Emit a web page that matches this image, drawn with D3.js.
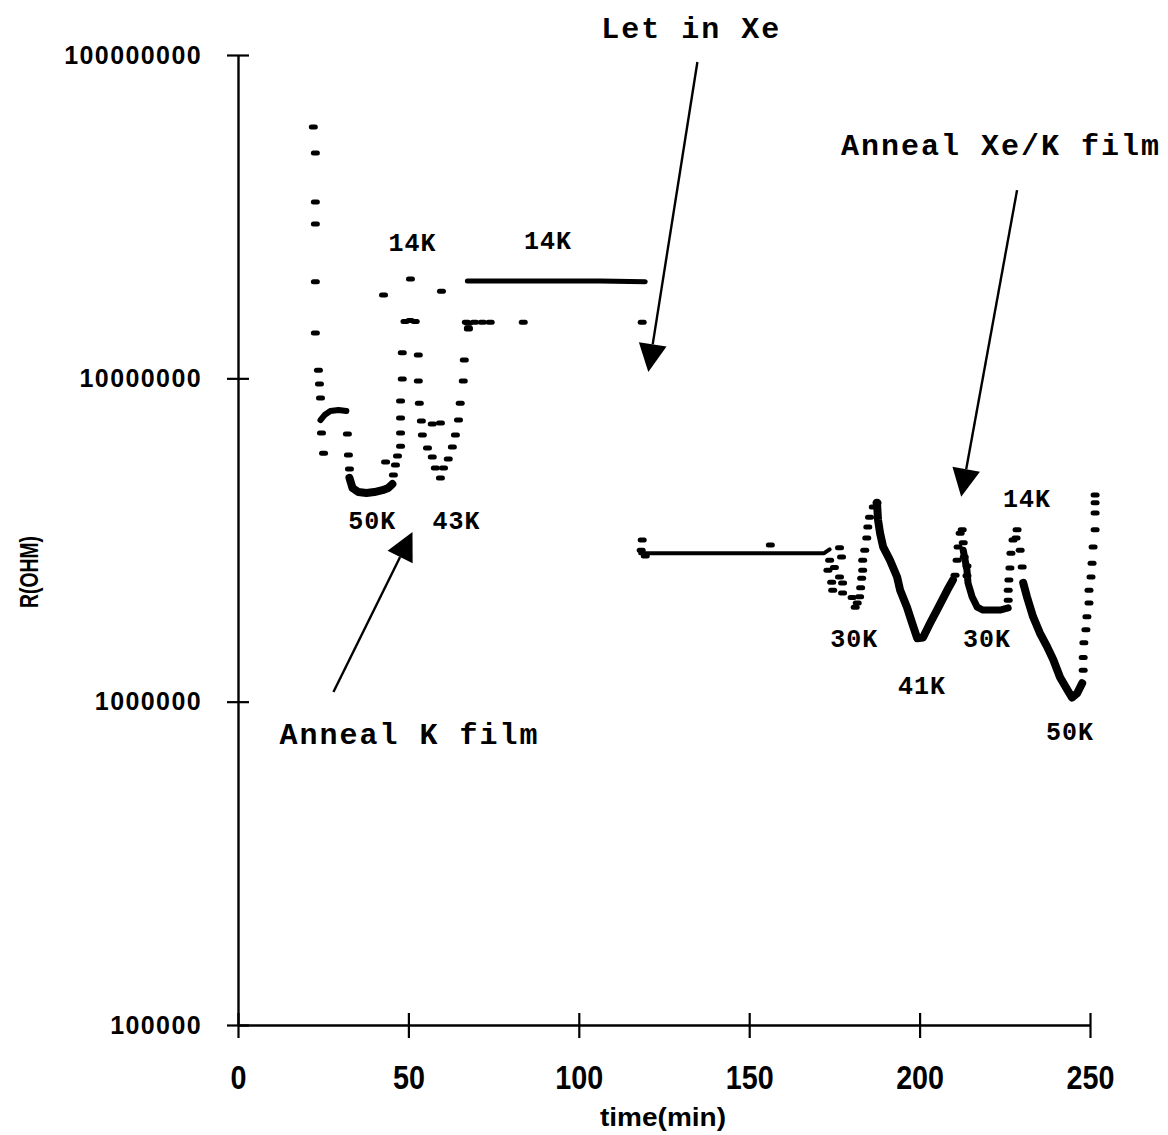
<!DOCTYPE html>
<html>
<head>
<meta charset="utf-8">
<script src="https://cdn.jsdelivr.net/npm/d3@7"></script>
<style>
  body { margin: 0; background: #fff; }
  svg { display: block; }
</style>
</head>
<body>
<svg id="chart" width="1168" height="1135"></svg>
<script>
// ---- Resistance of the K film vs. time: individual readings [time (min), R (ohm)] ----

// K film: first cool-down and anneal cycles (sparse readings)
const kFilmReadings = [
  [22.1, 5.99e7], [22.7, 4.98e7], [22.7, 3.51e7], [22.7, 3.00e7], [22.7, 1.99e7],
  [22.7, 1.38e7], [23.6, 1.06e7], [23.9, 9.60e6], [24.2, 8.69e6], [24.5, 6.77e6],
  [25.1, 5.87e6],
  [32.1, 6.73e6], [32.4, 5.79e6], [32.7, 5.24e6], [43.3, 5.51e6],
  [45.6, 5.02e6], [46.2, 5.39e6], [46.8, 5.75e6], [47.7, 6.17e6], [47.7, 6.77e6],
  [47.7, 7.54e6], [47.7, 8.51e6], [48.2, 9.95e6], [48.2, 1.20e7],
  [49.0, 1.50e7], [50.5, 1.51e7], [52.0, 1.50e7],
  [52.9, 1.18e7], [52.9, 9.81e6], [53.2, 8.38e6], [53.8, 7.38e6], [54.1, 6.68e6],
  [55.6, 6.09e6], [57.0, 5.71e6], [57.9, 5.28e6], [59.4, 4.92e6],
  [57.0, 7.22e6], [59.4, 7.27e6],
  [60.3, 5.28e6], [61.7, 5.63e6], [62.9, 6.13e6], [63.8, 6.68e6], [64.7, 7.43e6],
  [65.2, 8.38e6], [66.1, 9.81e6], [66.4, 1.14e7], [67.6, 1.42e7], [67.6, 1.48e7],
  [42.7, 1.81e7], [50.6, 2.03e7], [59.7, 1.86e7],
  [67.0, 1.49e7], [69.4, 1.49e7], [71.7, 1.49e7], [74.0, 1.49e7], [67.6, 1.43e7],
  [83.7, 1.49e7], [118.6, 1.49e7]
];

// Xe/K film: plateau, anneal cycles (sparse readings)
const xeFilmReadings = [
  [118.6, 3.16e6], [118.3, 2.94e6], [119.5, 2.82e6], [156.2, 3.05e6],
  [176.5, 2.99e6], [177.1, 2.80e6], [173.6, 2.74e6], [173.1, 2.55e6], [174.2, 2.34e6],
  [174.5, 2.21e6], [176.5, 2.43e6], [177.4, 2.33e6], [177.4, 2.17e6], [175.0, 2.60e6],
  [181.1, 1.96e6], [181.7, 2.02e6], [180.2, 2.10e6], [182.4, 2.11e6], [182.7, 2.25e6],
  [183.0, 2.41e6], [183.3, 2.55e6], [183.3, 2.74e6], [183.9, 2.94e6], [184.5, 3.21e6],
  [184.8, 3.47e6], [185.3, 3.72e6], [186.4, 4.00e6], [187.5, 4.12e6],
  [210.4, 2.46e6], [211.0, 2.74e6], [211.3, 3.01e6], [211.9, 3.32e6], [212.5, 3.40e6],
  [212.8, 3.10e6], [213.1, 2.80e6], [213.9, 2.63e6], [213.9, 2.45e6],
  [226.0, 2.06e6], [226.0, 2.21e6], [226.2, 2.38e6], [226.5, 2.59e6], [226.8, 2.88e6],
  [227.4, 3.16e6], [228.6, 3.40e6], [228.3, 3.21e6], [229.5, 2.94e6], [230.1, 2.61e6],
  [248.0, 1.25e6], [248.0, 1.37e6], [248.2, 1.52e6], [248.8, 1.67e6], [249.1, 1.83e6],
  [249.7, 2.02e6], [249.7, 2.21e6], [250.3, 2.43e6], [250.6, 2.68e6], [250.9, 3.01e6],
  [251.5, 3.40e6], [251.5, 3.83e6], [251.5, 4.12e6], [251.5, 4.36e6]
];

// Densely sampled stretches, drawn as continuous traces
const kPlateau8M = [[24.2, 7.43e6], [25.4, 7.70e6], [27.1, 7.92e6], [29.5, 7.98e6], [31.8, 7.92e6]];
const kDip50K = [[32.7, 4.92e6], [33.6, 4.58e6], [35.3, 4.45e6], [37.7, 4.42e6], [40.0, 4.45e6],
                 [42.4, 4.51e6], [44.1, 4.58e6], [45.3, 4.71e6]];
const kHold14K = [[67.3, 2.00e7], [77.0, 2.00e7], [91.6, 2.00e7], [106.3, 2.00e7], [119.5, 1.99e7]];
const xePlateau = [[118.0, 2.88e6], [150.0, 2.88e6], [172.0, 2.88e6], [173.6, 2.96e6]];
const xeDip41K = [[187.5, 4.12e6], [187.8, 3.65e6], [188.4, 3.32e6], [189.3, 3.01e6], [191.3, 2.74e6],
                  [193.4, 2.43e6], [194.3, 2.21e6], [196.3, 1.96e6], [197.8, 1.75e6], [199.3, 1.57e6],
                  [201.0, 1.58e6], [203.1, 1.75e6], [205.1, 1.92e6], [208.1, 2.21e6], [209.8, 2.38e6]];
const xeDip30K = [[212.8, 2.94e6], [213.9, 2.55e6], [214.2, 2.33e6], [215.4, 2.11e6], [216.9, 1.96e6],
                  [218.6, 1.92e6], [223.6, 1.92e6], [226.0, 1.95e6]];
const xeDip50K = [[230.4, 2.33e6], [231.5, 2.11e6], [233.3, 1.83e6], [235.3, 1.63e6], [237.4, 1.48e6],
                  [239.2, 1.35e6], [241.2, 1.19e6], [243.3, 1.09e6], [244.7, 1.03e6], [246.2, 1.06e6],
                  [247.7, 1.14e6]];

// Axis ticks
const xTicks = [0, 50, 100, 150, 200, 250];
const yTicks = [1e5, 1e6, 1e7, 1e8];

// Temperature labels [text, time, R at baseline]
const tempLabels = [
  ["14K", 51.2, 2.48e7], ["14K", 91.0, 2.51e7], ["50K", 39.4, 3.42e6], ["43K", 64.1, 3.42e6],
  ["30K", 180.8, 1.48e6], ["41K", 200.7, 1.056e6], ["30K", 219.8, 1.48e6],
  ["14K", 231.5, 4.00e6], ["50K", 244.1, 7.61e5]
];

// Event notes [text, time, R at baseline] and their arrows [from, to]
const eventNotes = [
  ["Let in Xe", 133.0, 1.13e8],
  ["Anneal Xe/K film", 223.9, 4.91e7],
  ["Anneal K film", 50.3, 7.39e5]
];
const eventArrows = [
  [[134.8, 9.51e7], [120.4, 1.046e7]],
  [[228.6, 3.82e7], [212.2, 4.30e6]],
  [[28.0, 1.071e6], [51.2, 3.35e6]]
];

// ---- Layout ----
const W = 1168, H = 1135;
const margin = { top: 55, right: 78, bottom: 110, left: 238 };
const svg = d3.select("#chart");

const x = d3.scaleLinear().domain([0, 250]).range([margin.left, W - margin.right]);
const y = d3.scaleLog().domain([1e5, 1e8]).range([H - margin.bottom, margin.top]);

const sansBold = "'Liberation Sans', Arial, sans-serif";
const mono = "'Liberation Mono', 'Courier New', monospace";

// Y axis (ticks cross the axis line)
const gy = svg.append("g")
  .attr("transform", `translate(${margin.left},0)`)
  .call(d3.axisLeft(y).tickValues(yTicks).tickFormat(d3.format("d"))
    .tickSize(11).tickSizeOuter(0).tickPadding(25));
gy.select(".domain").attr("stroke", "#000").attr("stroke-width", 2.4);
gy.selectAll(".tick line").attr("x1", 11).attr("stroke", "#000").attr("stroke-width", 2.2);
gy.selectAll(".tick text")
  .attr("fill", "#000")
  .style("font-family", sansBold).style("font-weight", "bold")
  .style("font-size", "25px").style("letter-spacing", "1.4px");

// X axis
const gx = svg.append("g")
  .attr("transform", `translate(0,${H - margin.bottom})`)
  .call(d3.axisBottom(x).tickValues(xTicks).tickFormat(d3.format("d"))
    .tickSize(13).tickSizeOuter(0).tickPadding(28));
gx.select(".domain").attr("stroke", "#000").attr("stroke-width", 2.4);
gx.selectAll(".tick line").attr("y1", -12).attr("stroke", "#000").attr("stroke-width", 2.2);
gx.selectAll(".tick text")
  .attr("fill", "#000")
  .attr("transform", "scale(0.87,1)")
  .style("font-family", sansBold).style("font-weight", "bold")
  .style("font-size", "33px");

// Axis titles
svg.append("text")
  .attr("x", 663).attr("y", 1126)
  .attr("text-anchor", "middle")
  .attr("textLength", 126).attr("lengthAdjust", "spacingAndGlyphs")
  .style("font-family", sansBold).style("font-weight", "bold").style("font-size", "26px")
  .text("time(min)");

svg.append("text")
  .attr("transform", "translate(38,572) rotate(-90)")
  .attr("text-anchor", "middle")
  .attr("textLength", 72).attr("lengthAdjust", "spacingAndGlyphs")
  .style("font-family", sansBold).style("font-weight", "bold").style("font-size", "25px")
  .text("R(OHM)");

// ---- Data marks ----
const plot = svg.append("g");
const line = d3.line().x(d => x(d[0])).y(d => y(d[1])).curve(d3.curveLinear);

const traces = [
  [kPlateau8M, 6], [kDip50K, 8], [kHold14K, 5], [xePlateau, 4],
  [xeDip41K, 8], [xeDip30K, 7], [xeDip50K, 8]
];
plot.selectAll("path.trace")
  .data(traces)
  .join("path")
  .attr("class", "trace")
  .attr("d", d => line(d[0]))
  .attr("fill", "none")
  .attr("stroke", "#000")
  .attr("stroke-width", d => d[1])
  .attr("stroke-linecap", "round")
  .attr("stroke-linejoin", "round");

plot.selectAll("rect.reading")
  .data(kFilmReadings.concat(xeFilmReadings))
  .join("rect")
  .attr("class", "reading")
  .attr("x", d => x(d[0]) - 4.5)
  .attr("y", d => y(d[1]) - 2.5)
  .attr("width", 9).attr("height", 5)
  .attr("rx", 2.5)
  .attr("fill", "#000");

// ---- Annotations ----
const notes = svg.append("g");
notes.selectAll("text.temp")
  .data(tempLabels)
  .join("text")
  .attr("class", "temp")
  .attr("x", d => x(d[1])).attr("y", d => y(d[2]))
  .attr("text-anchor", "middle")
  .style("font-family", mono).style("font-weight", "bold")
  .style("font-size", "25px").style("letter-spacing", "1px")
  .text(d => d[0]);

notes.selectAll("text.event")
  .data(eventNotes)
  .join("text")
  .attr("class", "event")
  .attr("x", d => x(d[1])).attr("y", d => y(d[2]))
  .attr("text-anchor", "middle")
  .style("font-family", mono).style("font-weight", "bold")
  .style("font-size", "30px").style("letter-spacing", "2px")
  .text(d => d[0]);

// Arrows: shaft plus filled triangular head
eventArrows.forEach(([from, to]) => {
  const x0 = x(from[0]), y0 = y(from[1]), x1 = x(to[0]), y1 = y(to[1]);
  const ang = Math.atan2(y1 - y0, x1 - x0);
  const len = 28, half = 14;
  const bx = x1 - len * Math.cos(ang), by = y1 - len * Math.sin(ang);
  const nx = -Math.sin(ang) * half, ny = Math.cos(ang) * half;
  notes.append("line")
    .attr("x1", x0).attr("y1", y0).attr("x2", bx).attr("y2", by)
    .attr("stroke", "#000").attr("stroke-width", 2.4);
  notes.append("path")
    .attr("d", `M${x1},${y1}L${bx + nx},${by + ny}L${bx - nx},${by - ny}Z`)
    .attr("fill", "#000");
});
</script>
</body>
</html>
